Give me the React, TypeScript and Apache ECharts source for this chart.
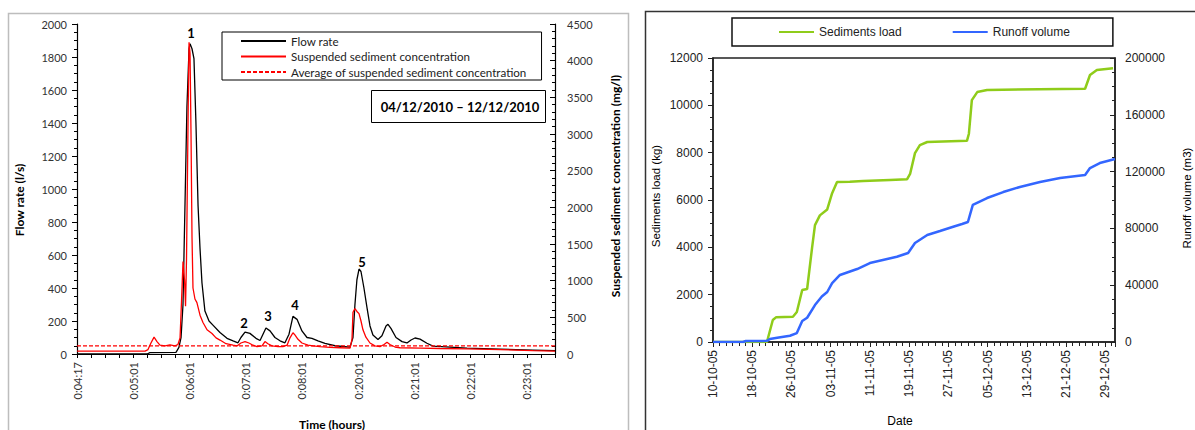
import React, { useEffect, useRef } from "react";
import * as echarts from "echarts";

// ---------- Left chart data ----------
// x in tick units (label every 4 ticks)
const leftTimeLabels = ["0:04:17", "0:05:01", "0:06:01", "0:07:01", "0:08:01", "0:20:01", "0:21:01", "0:22:01", "0:23:01"];

const flowTime = [0, 4.98, 5.19, 7.04, 7.25, 7.4, 7.54, 7.68, 7.82, 7.97, 8.04, 8.18, 8.32, 8.46, 8.61, 8.75, 8.89, 9.1, 9.39, 9.67, 10.17, 10.67, 11.1, 11.45, 11.66, 11.95, 12.3, 12.73, 13.02, 13.23, 13.44, 13.73, 14.08, 14.44, 14.79, 15.08, 15.36, 15.65, 16.0, 16.36, 16.71, 17.14, 17.64, 18.35, 19.42, 19.63, 19.77, 19.91, 20.06, 20.2, 20.41, 20.63, 20.84, 21.05, 21.41, 21.69, 21.98, 22.12, 22.33, 22.69, 23.12, 23.47, 23.76, 24.04, 24.4, 24.89, 25.32, 26.53, 27.74, 30.09, 32.43, 34.0];
const flowRate = [0, 0, 8, 10, 40, 100, 300, 900, 1500, 1850, 1880, 1850, 1790, 1400, 900, 640, 430, 260, 200, 175, 130, 95, 80, 68, 100, 133, 125, 95, 82, 120, 158, 140, 100, 80, 68, 120, 228, 210, 140, 100, 95, 80, 65, 50, 42, 100, 300, 450, 515, 500, 400, 280, 170, 115, 88, 110, 170, 180, 155, 100, 75, 67, 85, 97, 90, 65, 48, 42, 36, 30, 24, 20];

const sscTime = [0, 4.84, 5.05, 5.26, 5.48, 5.69, 5.9, 6.26, 6.61, 6.97, 7.18, 7.33, 7.43, 7.54, 7.65, 7.72, 7.79, 7.86, 7.93, 7.97, 8.04, 8.11, 8.18, 8.25, 8.39, 8.53, 8.75, 8.96, 9.25, 9.6, 9.89, 10.17, 10.6, 11.1, 11.38, 11.66, 11.95, 12.23, 12.52, 12.8, 13.16, 13.37, 13.58, 13.87, 14.3, 14.65, 14.94, 15.15, 15.36, 15.5, 15.72, 16.0, 16.43, 16.79, 17.28, 17.99, 18.71, 19.42, 19.56, 19.63, 19.77, 19.91, 20.06, 20.2, 20.34, 20.55, 20.84, 21.19, 21.55, 21.84, 22.05, 22.26, 22.62, 22.97, 24.4, 25.82, 27.74, 30.09, 32.43, 34.0];
const sscValue = [40, 40, 60, 150, 230, 170, 120, 110, 125, 110, 130, 220, 700, 1260, 1000, 650, 1300, 2500, 3700, 4250, 4100, 3000, 1600, 900, 750, 700, 530, 430, 330, 280, 220, 190, 140, 120, 110, 150, 170, 150, 120, 100, 110, 170, 140, 110, 100, 100, 120, 220, 290, 260, 200, 150, 120, 110, 100, 90, 85, 80, 200, 570, 620, 580, 550, 450, 330, 230, 150, 110, 100, 130, 160, 130, 95, 85, 80, 75, 70, 60, 45, 40];

const sscAverage = 110;
const peakNames = ["1", "2", "3", "4", "5"];

// ---------- Right chart data ----------
// x in days since 10-10-05
const dateLabels = ["10-10-05", "18-10-05", "26-10-05", "03-11-05", "11-11-05", "19-11-05", "27-11-05", "05-12-05", "13-12-05", "21-12-05", "29-12-05"];

const loadDay = [0, 11.0, 12.2, 12.9, 16.3, 17.1, 18.2, 19.2, 20.2, 20.8, 21.8, 23.3, 24.3, 25.3, 27.9, 30.6, 36.1, 39.6, 40.2, 41.2, 42.2, 43.7, 51.8, 52.2, 52.8, 53.9, 55.9, 75.9, 76.9, 78.3, 81.6];
const loadKg = [0, 0, 930, 1050, 1070, 1270, 2200, 2240, 3970, 4940, 5350, 5600, 6290, 6760, 6770, 6800, 6850, 6880, 7100, 7980, 8320, 8450, 8500, 8800, 10220, 10560, 10650, 10700, 11280, 11490, 11570];

const runoffDay = [0, 6.1, 6.7, 11.0, 11.6, 13.1, 15.7, 17.1, 18.2, 19.2, 20.8, 22.2, 23.3, 24.3, 25.9, 29.4, 32.0, 37.5, 39.8, 41.2, 43.7, 46.3, 49.0, 50.8, 52.0, 52.4, 53.0, 55.9, 59.2, 62.6, 66.7, 70.8, 75.9, 76.9, 78.9, 82.0];
const runoffM3 = [0, 0, 700, 800, 2100, 3000, 4400, 6300, 14800, 17100, 26000, 32000, 35200, 41500, 47200, 51400, 55600, 60000, 62700, 69700, 75400, 78200, 81200, 83100, 84500, 89400, 96500, 101400, 105600, 109200, 112700, 115500, 117600, 122500, 126000, 128900];

const zip = (xs: number[], ys: number[]) => xs.map((x, i) => [x, ys[i]]);

const LFONT = "Lato";
const RFONT = "Liberation Sans";
const plain = (v: number) => String(v);

export default function App() {
  const ref = useRef<HTMLDivElement>(null);

  useEffect(() => {
    if (!ref.current) return;
    const chart = echarts.init(ref.current, undefined, { renderer: "svg" });

    const leftLabelStyle = { fontFamily: LFONT, fontSize: 11, color: "#333" };
    const rightLabelStyle = { fontFamily: RFONT, fontSize: 12, color: "#222" };

    const titleText = (text: string, x: number, y: number, opts: any = {}) => ({
      type: "text",
      x,
      y,
      rotation: opts.rotation || 0,
      style: {
        text,
        fontFamily: opts.font || LFONT,
        fontSize: opts.size || 12,
        fontWeight: opts.weight || "bold",
        fill: "#000",
        align: "center",
        verticalAlign: "middle",
      },
      z: 10,
    });

    const peakPos = [
      [191, 33],
      [244, 323],
      [268, 316],
      [295, 305],
      [362, 262],
    ];

    chart.setOption({
      animation: false,
      backgroundColor: "#fff",
      grid: [
        { left: 77, top: 24, width: 478, height: 330, show: false },
        { left: 713, top: 58, width: 402, height: 284, show: true, borderColor: "#222", borderWidth: 1.5, backgroundColor: "transparent" },
      ],
      legend: [
        {
          orient: "vertical",
          left: 222,
          top: 32,
          padding: [3, 15, 2, 18],
          itemGap: 3.5,
          itemWidth: 45,
          itemHeight: 12,
          borderColor: "#000",
          borderWidth: 1,
          backgroundColor: "#fff",
          itemStyle: { opacity: 0 },
          textStyle: { fontFamily: LFONT, fontSize: 11.6, color: "#222" },
          data: ["Flow rate", "Suspended sediment concentration", "Average of suspended sediment concentration"],
        },
        {
          orient: "horizontal",
          left: 732,
          top: 18,
          padding: [8, 43, 8, 46],
          itemGap: 50,
          itemWidth: 35,
          itemHeight: 14,
          borderColor: "#111",
          borderWidth: 1.5,
          backgroundColor: "#fff",
          itemStyle: { opacity: 0 },
          textStyle: { fontFamily: RFONT, fontSize: 12, color: "#222" },
          data: ["Sediments load", "Runoff volume"],
        },
      ],
      xAxis: [
        {
          gridIndex: 0,
          type: "value",
          min: 0,
          max: 34,
          interval: 1,
          splitLine: { show: false },
          axisLine: { show: true, onZero: false, lineStyle: { color: "#000", width: 1.2 } },
          axisTick: { show: true, inside: false, length: 4, lineStyle: { color: "#000" } },
          axisLabel: {
            ...leftLabelStyle,
            rotate: 90,
            margin: 8,
            formatter: (v: number) => {
              const r = Math.round(v);
              if (Math.abs(v - r) > 1e-6 || r % 4 !== 0) return "";
              return leftTimeLabels[r / 4] ?? "";
            },
          },
        },
        {
          gridIndex: 1,
          type: "value",
          min: 0,
          max: 82,
          interval: 8,
          splitLine: { show: false },
          axisLine: { show: true, onZero: false, lineStyle: { color: "#222", width: 1.5 } },
          axisTick: { show: true, inside: false, length: 5, lineStyle: { color: "#222" } },
          minorTick: { show: true, splitNumber: 6, length: 4, lineStyle: { color: "#222" } },
          axisLabel: {
            ...rightLabelStyle,
            rotate: 90,
            margin: 8,
            formatter: (v: number) => {
              const r = Math.round(v);
              if (Math.abs(v - r) > 1e-6 || r % 8 !== 0) return "";
              return dateLabels[r / 8] ?? "";
            },
          },
        },
      ],
      yAxis: [
        {
          gridIndex: 0,
          type: "value",
          position: "left",
          min: 0,
          max: 2000,
          interval: 200,
          splitLine: { show: false },
          axisLine: { show: true, lineStyle: { color: "#000", width: 1.2 } },
          axisTick: { show: true, inside: false, length: 5, lineStyle: { color: "#000" } },
          minorTick: { show: true, splitNumber: 4, length: 3, lineStyle: { color: "#000" } },
          axisLabel: { ...leftLabelStyle, margin: 10, formatter: plain },
        },
        {
          gridIndex: 0,
          type: "value",
          position: "right",
          min: 0,
          max: 4500,
          interval: 500,
          splitLine: { show: false },
          axisLine: { show: true, lineStyle: { color: "#000", width: 1.2 } },
          axisTick: { show: true, inside: true, length: 5, lineStyle: { color: "#000" } },
          minorTick: { show: true, splitNumber: 5, length: 3, lineStyle: { color: "#000" } },
          axisLabel: { ...leftLabelStyle, margin: 12, formatter: plain },
        },
        {
          gridIndex: 1,
          type: "value",
          position: "left",
          min: 0,
          max: 12000,
          interval: 2000,
          splitLine: { show: false },
          axisLine: { show: true, lineStyle: { color: "#222", width: 1.5 } },
          axisTick: { show: true, inside: false, length: 5, lineStyle: { color: "#222" } },
          minorTick: { show: true, splitNumber: 4, length: 3, lineStyle: { color: "#222" } },
          axisLabel: { ...rightLabelStyle, margin: 10, formatter: plain },
        },
        {
          gridIndex: 1,
          type: "value",
          position: "right",
          min: 0,
          max: 200000,
          interval: 40000,
          splitLine: { show: false },
          axisLine: { show: true, lineStyle: { color: "#222", width: 1.5 } },
          axisTick: { show: true, inside: true, length: 5, lineStyle: { color: "#222" } },
          minorTick: { show: true, splitNumber: 4, length: 3, lineStyle: { color: "#222" } },
          axisLabel: { ...rightLabelStyle, margin: 10, formatter: plain },
        },
      ],
      series: [
        {
          name: "Flow rate",
          type: "line",
          xAxisIndex: 0,
          yAxisIndex: 0,
          symbol: "none",
          lineStyle: { color: "#000", width: 1.3 },
          itemStyle: { color: "#000" },
          data: zip(flowTime, flowRate),
          z: 3,
        },
        {
          name: "Suspended sediment concentration",
          type: "line",
          xAxisIndex: 0,
          yAxisIndex: 1,
          symbol: "none",
          lineStyle: { color: "#ff0000", width: 1.3 },
          itemStyle: { color: "#ff0000" },
          data: zip(sscTime, sscValue),
          z: 4,
        },
        {
          name: "Average of suspended sediment concentration",
          type: "line",
          xAxisIndex: 0,
          yAxisIndex: 1,
          symbol: "none",
          lineStyle: { color: "#ff0000", width: 1.3, type: [4, 2] },
          itemStyle: { color: "#ff0000" },
          data: [
            [0, sscAverage],
            [34, sscAverage],
          ],
          z: 5,
        },
        {
          name: "Sediments load",
          type: "line",
          xAxisIndex: 1,
          yAxisIndex: 2,
          symbol: "none",
          lineStyle: { color: "#8fcc1a", width: 2.5 },
          itemStyle: { color: "#8fcc1a" },
          data: zip(loadDay, loadKg),
          z: 3,
        },
        {
          name: "Runoff volume",
          type: "line",
          xAxisIndex: 1,
          yAxisIndex: 3,
          symbol: "none",
          lineStyle: { color: "#3366ff", width: 2.5 },
          itemStyle: { color: "#3366ff" },
          data: zip(runoffDay, runoffM3),
          z: 3,
        },
      ],
      graphic: [
        {
          type: "rect",
          shape: { x: 8.5, y: 13.5, width: 620, height: 440 },
          style: { fill: "none", stroke: "#bdbdbd", lineWidth: 1.5 },
          z: 0,
          silent: true,
        },
        {
          type: "rect",
          shape: { x: 645.5, y: 11.5, width: 600, height: 440 },
          style: { fill: "none", stroke: "#333", lineWidth: 1.5 },
          z: 0,
          silent: true,
        },
        {
          type: "rect",
          shape: { x: 371.5, y: 90.5, width: 174, height: 32 },
          style: { fill: "#fff", stroke: "#000", lineWidth: 1 },
          z: 9,
        },
        titleText("04/12/2010 – 12/12/2010", 460, 107, { size: 13 }),
        ...peakNames.map((p, i) => titleText(p, peakPos[i][0], peakPos[i][1], { size: 13 })),
        titleText("Flow rate (l/s)", 19, 200, { rotation: Math.PI / 2 }),
        titleText("Suspended sediment concentration (mg/l)", 615, 186, { rotation: Math.PI / 2 }),
        titleText("Time (hours)", 332, 424),
        titleText("Sediments load (kg)", 656, 196, { rotation: Math.PI / 2, font: RFONT, size: 11.5, weight: "normal" }),
        titleText("Runoff volume (m3)", 1187, 198, { rotation: Math.PI / 2, font: RFONT, size: 11.5, weight: "normal" }),
        titleText("Date", 900, 421, { font: RFONT, size: 12, weight: "normal" }),
      ],
    });

    return () => chart.dispose();
  }, []);

  return (
    <div
      ref={ref}
      style={{ position: "fixed", left: 0, top: 0, width: 1195, height: 430, background: "#fff" }}
    />
  );
}
